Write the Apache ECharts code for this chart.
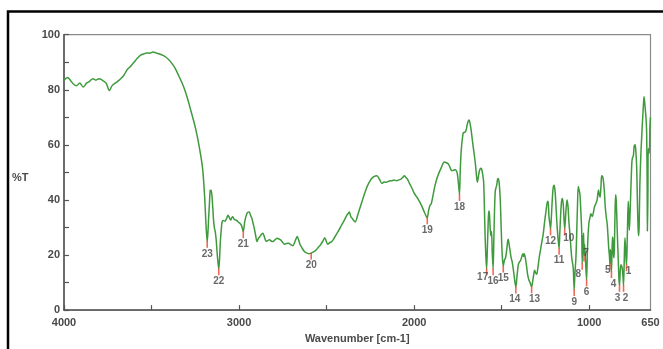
<!DOCTYPE html>
<html>
<head>
<meta charset="utf-8">
<script src="https://cdn.jsdelivr.net/npm/echarts@6/dist/echarts.min.js"></script>
<style>
html,body{margin:0;padding:0;background:#fff;}
#c{width:663px;height:349px;}
</style>
</head>
<body>
<div id="c"></div>
<script>
// Wavenumbers (cm-1) and transmittance (%T)
const wavenumbers = [4000,3980,3964,3945,3927,3910,3891,3870,3855,3835,3818,3800,3782,3760,3741,3725,3705,3685,3661,3637,3620,3600,3580,3564,3545,3528,3510,3492,3470,3455,3435,3419,3400,3383,3365,3346,3328,3310,3292,3274,3262,3249,3237,3225,3216,3208,3202,3196,3192,3189,3185,3182,3178,3174,3169,3165,3160,3155,3150,3145,3140,3136,3130,3126,3120,3116,3112,3107,3102,3097,3090,3080,3070,3063,3055,3048,3042,3036,3028,3019,3012,3005,2995,2985,2976,2968,2959,2950,2942,2935,2927,2920,2913,2905,2898,2890,2881,2872,2864,2855,2845,2835,2826,2815,2806,2795,2782,2772,2763,2750,2741,2730,2717,2705,2693,2680,2668,2660,2651,2640,2627,2615,2603,2588,2572,2559,2547,2535,2522,2511,2502,2494,2482,2470,2458,2446,2430,2414,2400,2385,2378,2370,2362,2354,2345,2337,2320,2305,2290,2274,2260,2245,2230,2213,2198,2184,2172,2160,2145,2128,2115,2099,2087,2075,2065,2056,2048,2039,2028,2015,2000,1990,1978,1966,1954,1942,1930,1925,1918,1910,1903,1896,1888,1881,1870,1857,1843,1828,1815,1804,1795,1785,1775,1765,1758,1753,1747,1741,1737,1733,1729,1724,1719,1712,1705,1698,1692,1687,1683,1676,1668,1660,1651,1645,1639,1633,1627,1620,1615,1609,1603,1599,1595,1590,1586,1582,1578,1574,1570,1566,1562,1558,1554,1549,1545,1541,1537,1533,1528,1522,1518,1514,1508,1503,1497,1491,1485,1478,1472,1466,1463,1458,1452,1446,1440,1432,1425,1419,1413,1405,1398,1392,1385,1379,1375,1371,1365,1358,1352,1345,1338,1333,1329,1324,1318,1312,1306,1300,1294,1286,1278,1270,1263,1255,1247,1240,1235,1230,1224,1221,1217,1212,1206,1200,1195,1190,1185,1180,1175,1172,1168,1163,1158,1153,1148,1144,1140,1135,1130,1126,1121,1116,1110,1105,1100,1095,1091,1086,1082,1076,1071,1067,1063,1059,1053,1048,1043,1040,1037,1035,1032,1030,1027,1022,1018,1015,1011,1006,1001,996,991,987,982,976,970,963,955,947,943,938,933,929,924,920,914,909,903,897,891,888,885,882,879,876,873,870,867,864,861,858,855,852,849,846,842,838,834,830,827,823,819,815,811,807,804,800,796,792,789,787,784,780,777,774,771,768,765,760,756,752,748,743,738,734,729,725,721,718,715,711,706,701,695,690,687,684,680,676,672,669,668,665,663,660,657,653,650];
const transmittance = [83.5,84.5,83.5,82,81.5,82.5,81,82.5,83,84,83.5,84,83.5,82.5,79.7,81.5,82.5,83.5,85,87.5,88.5,90,91.5,92.5,93,93.4,93.3,93.7,93.3,93,92.5,91.9,90.8,89.5,87.8,85.3,82.8,79.9,76.3,72.1,69.3,66.1,62.5,58.4,55,51.2,46.5,40.4,35,30.9,27,25,28,33.3,39,43.4,43.5,41.6,37,32,29.5,28.5,25,21.3,17,15,18,24.9,29,32,32.5,32.3,33.5,34.4,33.5,32.7,33.5,33.9,33,32.7,32.5,32,31.5,30.5,28.5,32,34.4,35.5,35.6,34.5,33.3,31.5,29.7,27,24.9,26,26.7,27.5,27.9,26.5,24.9,25.3,25.5,25,24.9,25.5,26.1,25.8,25.5,24.5,23.9,24.2,24.3,23.8,23.4,25,26.7,25.5,23.7,22.5,21.3,20.8,20.5,20.7,21.2,21.9,22.8,23.7,25,26.3,25,23.9,24.5,24.9,26,27.3,29,30.9,32.5,34.4,35,35.6,34,33.3,32.5,32,35,38,41,44,46,47.6,48.5,48.8,47.5,46,46.5,46.4,46.8,47,47.2,47,47.3,47.6,48.2,48.8,48.2,47.6,46.2,44.6,42.5,41.5,40.4,39,37.4,35.6,33.9,33.5,36,38,38.5,40.4,43,45.2,47.8,50,52,53.8,53.5,53,51.8,50.6,50.8,51,50.5,49.4,46,42,50,56,59.6,62.5,64.4,64.5,65,67,68.5,69,68.5,66,62,58,53.6,49.5,46.4,48.5,50.6,51.5,51.2,49.5,46.4,38,27.5,19,15,22,30,36,35,30,27,28.5,21,15,25,36,43,44.3,45.5,47.8,47.5,46,40,30,20,16,18,19,21.5,25,25.7,24,21.5,19,17.5,14,10.5,8.4,12,16.5,17.5,18,19.5,20.5,19.5,20.5,19,16,13,11,10,9,8.5,10,12.5,14.5,13.5,13,15,19,22,25,27.5,32,35.9,39,39.5,34,31,29.5,33,39,44.3,45.3,43,38,32,27.5,24,22.5,28,35,39.5,40.5,38,33,29.5,34,38.5,40,37.5,32,27.5,23,19,17,15,7.5,13,19,29,38,44.9,44,42,36,28.7,17,27,20.5,28,20,24,19,14,11,20,28,32,33.5,35,35,34,35.5,37.5,38.5,40,43.6,42,41,45,48.8,48.5,47.5,43.5,38,34,31,25,22,20,17,22,18,14,21,26.5,25,20,19,27,37,41.9,40,33,25,18,11,9,14,16.5,16,15,12,9,18,26.3,22,18,16.5,22,34,39.5,35,29,33,38.3,48,54,55.5,56,59.6,60,58,52,40,30,27,30,45,55,62,69.4,75,77.5,76,73,70,64.6,45,28.7,40,58.6,58,57,67,70];

// Labelled peaks: number, wavenumber, %T
const peakNumbers = [23,22,21,20,19,18,17,16,15,14,13,12,11,10,9,8,7,6,5,4,3,2,1];
const peakWavenumbers = [3182,3116,2976,2588,1925,1741,1586,1549,1491,1419,1329,1221,1172,1140,1086,1040,1030,1015,882,873,827,804,787];
const peakValues = [25,15,28.5,20.7,33.5,42,15,15,16,8.4,8.5,29.5,22.5,29.5,7.5,17,20,11,17,14,9,9,16.5];

const xTickValues = [4000,3500,3000,2500,2000,1500,1000];
const xLabelValues = [4000,3000,2000,1000,650];
const yTickValues = [0,10,20,30,40,50,60,70,80,90,100];

// label nudges (px) for crowded peak numbers
const labelNudge = {17:[-4,-4],16:[0,0],15:[0,0],14:[-1,0],13:[3,0],10:[4,-3],8:[-4,-2],7:[2,-14],6:[0,0],5:[-2,-6],4:[2,0],3:[-2,0],2:[2,0],1:[2,-6]};

const lineData = wavenumbers.map((w,i)=>[w, transmittance[i]]);
const peakData = peakNumbers.map((n,i)=>({
  name: String(n),
  value: [peakWavenumbers[i], peakValues[i]],
  label: {offset: labelNudge[n] || [0,0]}
}));

const chart = echarts.init(document.getElementById('c'), null, {renderer:'canvas'});
const axisText = {fontFamily:'Liberation Sans, Arial, sans-serif', fontSize:11, fontWeight:'bold', color:'#4a4a4a'};
chart.setOption({
  animation:false,
  backgroundColor:'#fff',
  grid:{left:64, right:12.5, top:34.7, bottom:35.7, show:true, borderColor:'#8a8a8a', borderWidth:1.2, backgroundColor:'transparent'},
  xAxis:{
    type:'value', inverse:true, min:650, max:4000,
    axisLine:{show:true, lineStyle:{color:'#555', width:1.5}},
    axisTick:{show:true, inside:true, length:5, customValues:xTickValues, lineStyle:{color:'#555', width:1.2}},
    axisLabel:Object.assign({customValues:xLabelValues, margin:7, showMinLabel:true, showMaxLabel:true, formatter:v=>String(v)}, axisText),
    splitLine:{show:false},
    name:'Wavenumber [cm-1]', nameLocation:'middle', nameGap:22,
    nameTextStyle:Object.assign({}, axisText)
  },
  yAxis:{
    type:'value', min:0, max:100, interval:20,
    axisLine:{show:true, lineStyle:{color:'#555', width:1.5}},
    axisTick:{show:true, inside:true, length:5, customValues:yTickValues, lineStyle:{color:'#555', width:1.2}},
    axisLabel:Object.assign({margin:4}, axisText),
    splitLine:{show:false}
  },
  graphic:[
    {type:'rect', silent:true, z:100, shape:{x:8, y:11.5, width:700, height:400}, style:{fill:'none', stroke:'#000', lineWidth:2.5}},
    {type:'text', left:12, top:172, style:{text:'%T', font:'bold 11px Liberation Sans, Arial, sans-serif', fill:'#4a4a4a'}}
  ],
  series:[
    {
      type:'line', data:lineData, showSymbol:false, smooth:0.3,
      lineStyle:{color:'#3e9a3c', width:1.5}, z:3, clip:true
    },
    {
      type:'scatter', data:peakData, z:4,
      symbol:'rect', symbolSize:[1.6,7], symbolOffset:[0,3],
      itemStyle:{color:'#e8452f'},
      label:{show:true, position:'bottom', distance:1, formatter:'{b}',
        fontFamily:'Liberation Sans, Arial, sans-serif', fontSize:10, fontWeight:'bold', color:'#444'}
    }
  ]
});
</script>
</body>
</html>
